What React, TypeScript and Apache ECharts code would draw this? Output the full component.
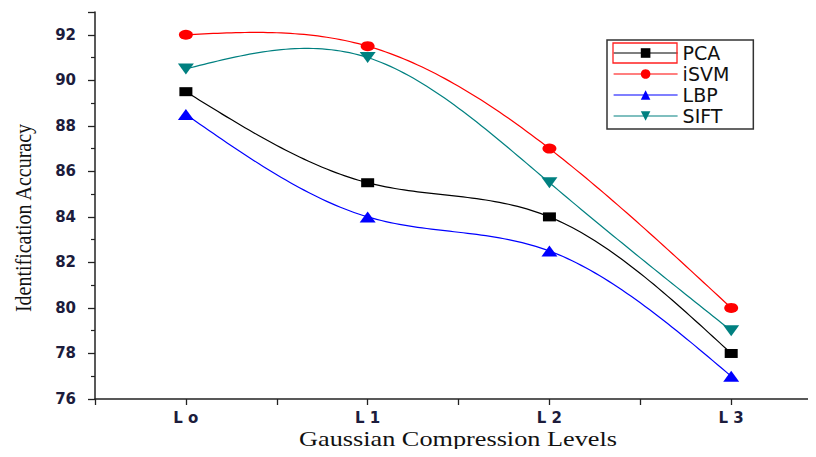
import React, { useEffect, useRef } from "react";
import * as echarts from "echarts";

const categories = ["L o", "L 1", "L 2", "L 3"];
const pcaValues = [89.5, 85.5, 84, 78];
const isvmValues = [92, 91.5, 87, 80];
const lbpValues = [88.5, 84, 82.5, 77];
const siftValues = [90.5, 91, 85.5, 79];
const seriesNames = ["PCA", "iSVM", "LBP", "SIFT"];
const yTicks = { min: 76, max: 93, interval: 2 };

const toPoints = (vals: number[]) => vals.map((v, i) => [i, v]);

// natural cubic spline through pixel points (x increasing), sampled for drawing
function naturalSpline(pts: number[][], steps: number): number[][] {
  const n = pts.length;
  if (n < 3) return pts;
  const x = pts.map((p) => p[0]);
  const y = pts.map((p) => p[1]);
  const h: number[] = [];
  for (let i = 0; i < n - 1; i++) h.push(x[i + 1] - x[i]);
  const M = new Array(n).fill(0);
  const a: number[] = [], b: number[] = [], c: number[] = [], d: number[] = [];
  for (let i = 1; i < n - 1; i++) {
    a.push(h[i - 1]);
    b.push(2 * (h[i - 1] + h[i]));
    c.push(h[i]);
    d.push(6 * ((y[i + 1] - y[i]) / h[i] - (y[i] - y[i - 1]) / h[i - 1]));
  }
  const m = b.length;
  for (let i = 1; i < m; i++) {
    const w = a[i] / b[i - 1];
    b[i] -= w * c[i - 1];
    d[i] -= w * d[i - 1];
  }
  const sol = new Array(m).fill(0);
  sol[m - 1] = d[m - 1] / b[m - 1];
  for (let i = m - 2; i >= 0; i--) sol[i] = (d[i] - c[i] * sol[i + 1]) / b[i];
  for (let i = 0; i < m; i++) M[i + 1] = sol[i];
  const out: number[][] = [];
  for (let i = 0; i < n - 1; i++) {
    const hi = h[i];
    for (let s = 0; s <= steps; s++) {
      if (i > 0 && s === 0) continue;
      const xx = x[i] + (hi * s) / steps;
      const A = x[i + 1] - xx;
      const B = xx - x[i];
      const yy =
        (M[i] * A * A * A) / (6 * hi) +
        (M[i + 1] * B * B * B) / (6 * hi) +
        (y[i] / hi - (M[i] * hi) / 6) * A +
        (y[i + 1] / hi - (M[i + 1] * hi) / 6) * B;
      out.push([xx, yy]);
    }
  }
  return out;
}

export default function App() {
  const ref = useRef<HTMLDivElement>(null);
  useEffect(() => {
    if (!ref.current) return;
    const chart = echarts.init(ref.current, null, { renderer: "svg" });
    const labelColor = "#1c1c3c";
    const markerSeries = (
      name: string,
      vals: number[],
      color: string,
      symbol: string,
      size: number[]
    ) => ({
      name,
      type: "line",
      data: toPoints(vals),
      symbol,
      symbolSize: size,
      showSymbol: true,
      itemStyle: { color },
      lineStyle: { color, width: 1.2, opacity: 0 },
      z: 4,
    });
    const curveSeries = (name: string, vals: number[], color: string) => ({
      name: name + " spline",
      type: "custom",
      data: toPoints(vals),
      encode: { x: 0, y: 1 },
      z: 2,
      silent: true,
      renderItem: (params: any, api: any) => {
        if (params.dataIndex !== 0) return { type: "group", children: [] };
        const pts = vals.map((v, i) => api.coord([i, v]));
        return {
          type: "polyline",
          shape: { points: naturalSpline(pts, 40) },
          style: { stroke: color, lineWidth: 1.2, fill: "none" },
        };
      },
    });
    chart.setOption({
      animation: false,
      backgroundColor: "#ffffff",
      grid: { left: 95, right: 0, top: 12, bottom: 58, containLabel: false },
      legend: {
        show: true,
        left: 607,
        top: 40,
        orient: "vertical",
        data: seriesNames,
        itemWidth: 64,
        itemHeight: 12,
        itemGap: 1,
        padding: [3, 24, 3, 6],
        borderColor: "#333",
        borderWidth: 1.5,
        lineStyle: { opacity: 1, width: 1.2 },
        textStyle: {
          fontFamily: "DejaVu Sans",
          fontSize: 19,
          lineHeight: 20,
          color: "#111",
        },
      },
      xAxis: {
        type: "value",
        min: -0.5,
        max: 3.45,
        interval: 0.5,
        axisLine: { show: true, onZero: false, lineStyle: { color: "#222", width: 1.5 } },
        axisTick: { show: true, length: 6, lineStyle: { color: "#222", width: 1.3 } },
        splitLine: { show: false },
        axisLabel: {
          margin: 11,
          fontFamily: "DejaVu Sans",
          fontWeight: "bold",
          fontSize: 15,
          color: labelColor,
          formatter: (v: number) =>
            Number.isInteger(v) && v >= 0 && v < categories.length ? categories[v] : "",
        },
      },
      yAxis: {
        type: "value",
        min: yTicks.min,
        max: yTicks.max,
        interval: yTicks.interval,
        axisLine: { show: true, onZero: false, lineStyle: { color: "#222", width: 1.5 } },
        axisTick: { show: true, length: 7, lineStyle: { color: "#222", width: 1.3 } },
        minorTick: { show: true, splitNumber: 2, length: 4, lineStyle: { color: "#222", width: 1.2 } },
        splitLine: { show: false },
        axisLabel: {
          showMaxLabel: false,
          margin: 19,
          fontFamily: "DejaVu Sans",
          fontWeight: "bold",
          fontSize: 15,
          color: labelColor,
        },
      },
      graphic: [
        {
          type: "text",
          x: 458,
          y: 439,
          scaleX: 1.25,
          style: {
            text: "Gaussian Compression Levels",
            font: "21px 'Liberation Serif'",
            fill: "#111",
            align: "center",
            verticalAlign: "middle",
          },
        },
        {
          type: "text",
          x: 24,
          y: 218,
          rotation: Math.PI / 2,
          scaleY: 1.15,
          style: {
            text: "Identification Accuracy",
            font: "20px 'Liberation Serif'",
            fill: "#111",
            align: "center",
            verticalAlign: "middle",
          },
        },
        {
          type: "rect",
          shape: { x: 613, y: 43, width: 64, height: 20 },
          style: { fill: "none", stroke: "#ff2020", lineWidth: 1.3 },
          z: 100,
        },
      ],
      series: [
        markerSeries("PCA", pcaValues, "#000000", "rect", [13, 9]),
        markerSeries("iSVM", isvmValues, "#ff0000", "circle", [14, 10]),
        markerSeries("LBP", lbpValues, "#0000ff", "triangle", [16, 11]),
        markerSeries("SIFT", siftValues, "#008080", "path://M0,0L2,0L1,1.4Z", [16, 11]),
        curveSeries("PCA", pcaValues, "#000000"),
        curveSeries("iSVM", isvmValues, "#ff0000"),
        curveSeries("LBP", lbpValues, "#0000ff"),
        curveSeries("SIFT", siftValues, "#008080"),
      ],
    });
    return () => chart.dispose();
  }, []);
  return <div ref={ref} style={{ width: 816, height: 457, margin: -8 }} />;
}
